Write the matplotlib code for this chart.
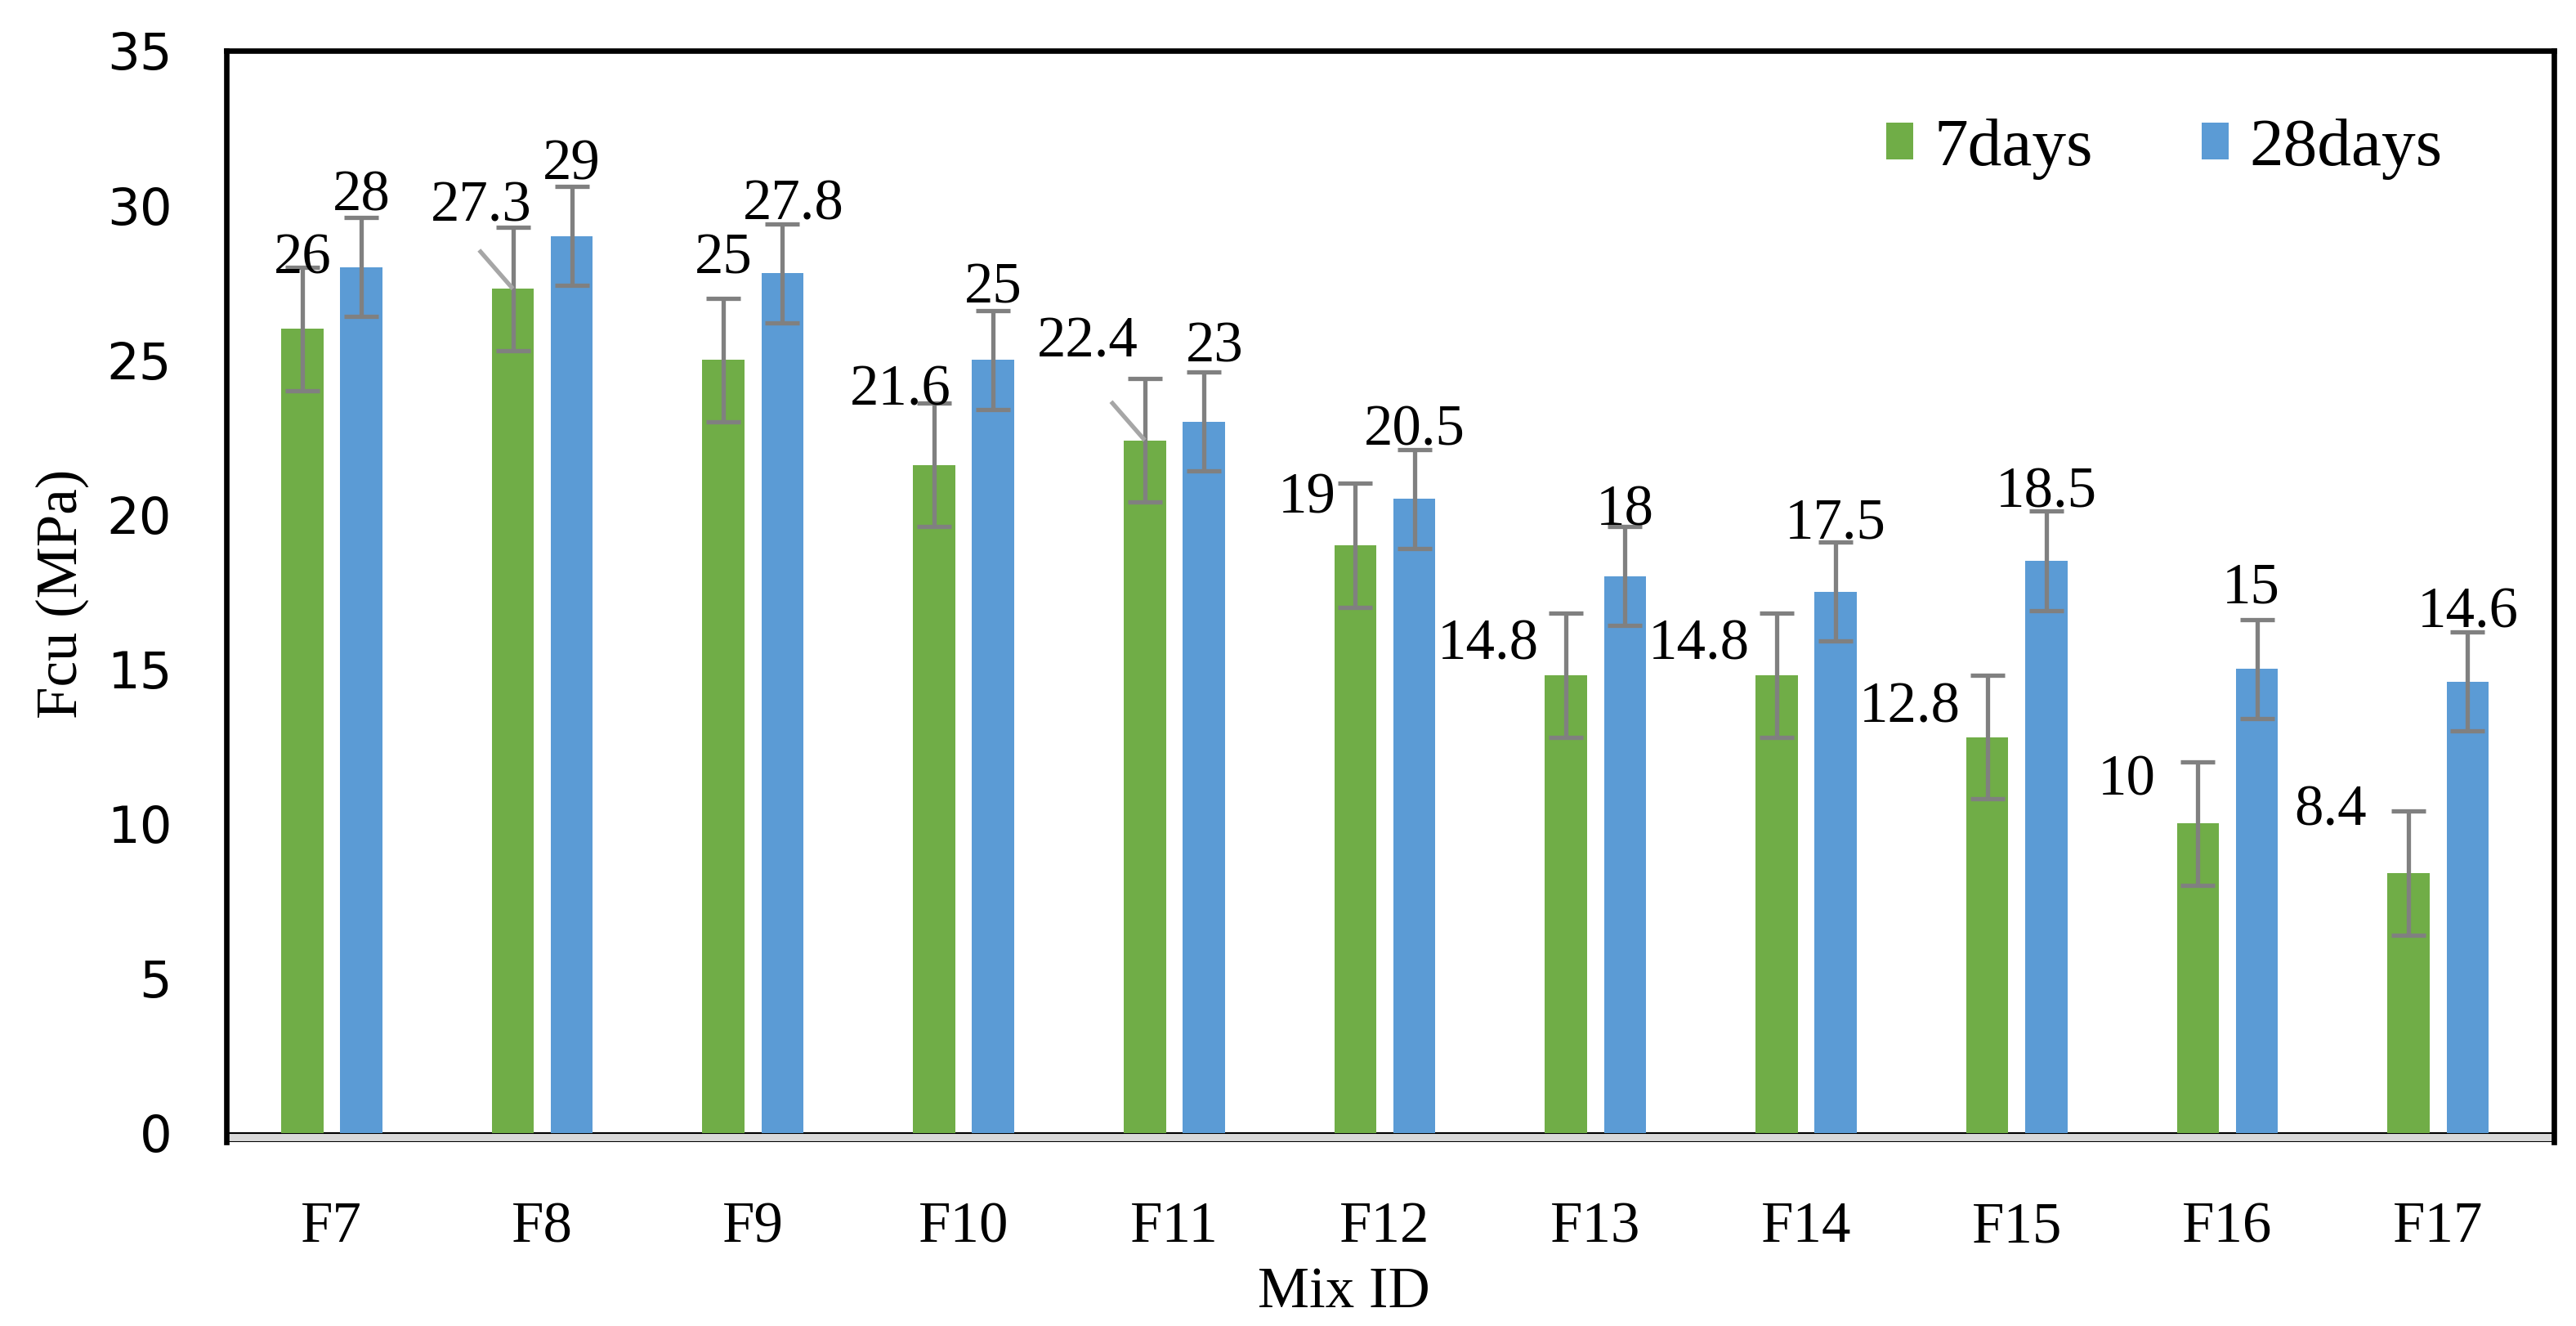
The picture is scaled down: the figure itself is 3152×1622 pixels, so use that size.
import numpy as np
import matplotlib.pyplot as plt

# compressive strength per mix
mixes = ["F7", "F8", "F9", "F10", "F11", "F12", "F13", "F14", "F15", "F16", "F17"]
fcu_7 = [26, 27.3, 25, 21.6, 22.4, 19, 14.8, 14.8, 12.8, 10, 8.4]
fcu_28 = [28, 29, 27.8, 25, 23, 20.5, 18, 17.5, 18.5, 15, 14.6]
err_7 = [2, 2, 2, 2, 2, 2, 2, 2, 2, 2, 2]
err_28 = [1.6, 1.6, 1.6, 1.6, 1.6, 1.6, 1.6, 1.6, 1.6, 1.6, 1.6]

# label placement (offsets from bar top, category / data units)
lbl7_dx = [0, -0.15, 0, -0.16, -0.27, -0.23, -0.37, -0.37, -0.37, -0.34, -0.37]
lbl7_dy = [2.25, 2.65, 3.25, 2.4, 3.15, 1.5, 0.97, 0.97, 0.95, 1.4, 2.0]
lbl28_dx = [0, 0, 0.05, 0, 0.05, 0, 0, 0, 0, -0.03, 0]
lbl28_dy = [2.3, 2.3, 2.2, 2.3, 2.4, 2.2, 2.1, 2.2, 2.2, 2.6, 2.2]
leader7 = [False, True, False, False, True, False, False, False, False, False, False]

green = "#70AD47"
blue = "#5B9BD5"
serif = "Liberation Serif"
fs = 51

fig = plt.figure(figsize=(31.52, 16.22), dpi=100)
ax = fig.add_axes([277 / 3152, 1 - 1397 / 1622, 2848 / 3152, 1335 / 1622])

x = np.arange(len(mixes))
w = 0.2
off = 0.14

ax.bar(x - off, fcu_7, w, color=green, label="7days", zorder=2)
ax.bar(x + off, fcu_28, w, color=blue, label="28days", zorder=2)
ax.errorbar(x - off, fcu_7, yerr=err_7, fmt="none", ecolor="#808080",
            elinewidth=3.8, capsize=15, capthick=3.8, zorder=3)
ax.errorbar(x + off, fcu_28, yerr=err_28, fmt="none", ecolor="#808080",
            elinewidth=3.8, capsize=15, capthick=3.8, zorder=3)

for i in range(len(mixes)):
    ax.text(x[i] - off + lbl7_dx[i], fcu_7[i] + lbl7_dy[i], f"{fcu_7[i]:g}",
            ha="center", va="center", fontsize=fs, family=serif, zorder=5)
    ax.text(x[i] + off + lbl28_dx[i], fcu_28[i] + lbl28_dy[i], f"{fcu_28[i]:g}",
            ha="center", va="center", fontsize=fs, family=serif, zorder=5)
    if leader7[i]:
        ax.plot([x[i] - off, x[i] - off - 0.16], [fcu_7[i], fcu_7[i] + 1.25],
                color="#A6A6A6", lw=3.8, solid_capstyle="butt", zorder=4)

# floor band under zero
ax.axhspan(-0.3, 0, facecolor="#D9D9D9", edgecolor="black", lw=1.5, zorder=1)

ax.set_xlim(-0.5, len(mixes) - 0.45)
ax.set_ylim(-0.3, 35)
ax.set_yticks(np.arange(0, 36, 5))
ax.set_xticks(x)
ax.set_xticklabels(mixes, family=serif, fontsize=fs)
ax.tick_params(axis="x", length=0, pad=52)
ax.tick_params(axis="y", length=0, pad=48, labelsize=45)

for s in ["left", "top", "right"]:
    ax.spines[s].set_linewidth(4.8)
ax.spines["bottom"].set_visible(False)

ax.set_ylabel("Fcu (MPa)", family=serif, fontsize=fs)
ax.yaxis.set_label_coords(-0.059, 0.502)
ax.set_xlabel("Mix ID", family=serif, fontsize=fs)
ax.xaxis.set_label_coords(0.48, -0.138)
ax.xaxis.label.set_va("center")

ax.legend(loc="center right", bbox_to_anchor=(0.952, 0.91), ncol=2,
          frameon=False, prop={"family": serif, "size": 60},
          handlelength=0.4, handleheight=0.45, handletextpad=0.3,
          columnspacing=1.6, borderpad=0, borderaxespad=0)

fig.savefig("out.png", dpi=100)
